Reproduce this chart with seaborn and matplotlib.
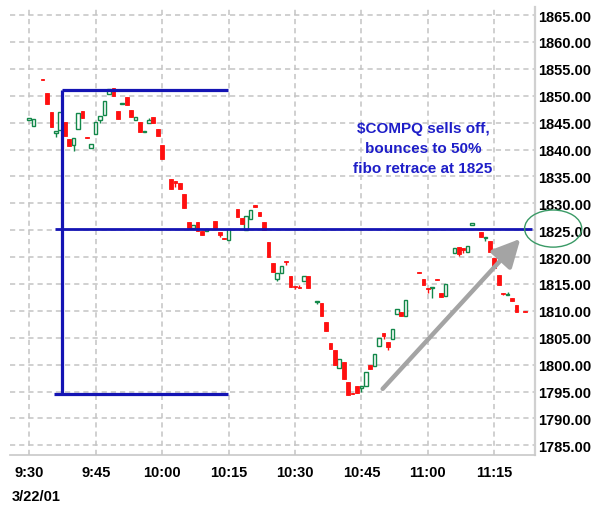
import numpy as np
import pandas as pd
import matplotlib
matplotlib.use("Agg")
import matplotlib.pyplot as plt
from matplotlib.patches import Ellipse
import seaborn as sns

# One-minute bars, minutes after the 9:30 open
minute = [0, 1, 3, 4, 5, 6, 7, 8, 9, 10, 11, 12, 13, 14, 15, 16, 17, 18, 19, 20,
          21, 22, 23, 24, 25, 26, 27, 28, 29, 30,
          32, 33, 34, 35, 36, 37, 38, 39, 40, 42, 43, 44, 45, 47, 48, 49, 50, 51,
          52, 53, 54, 55, 56, 57, 58, 59, 60, 61, 62, 63,
          65, 66, 67, 68, 69, 70, 71, 72, 73, 74, 75, 76, 77, 78, 79, 80, 81, 82,
          83, 84, 85,
          88, 89, 90, 91, 92, 93, 94, 96, 97, 98, 99, 100, 102, 103, 104, 105, 106,
          107, 108, 109, 110, 112]
open_px = [1845.5, 1844.3, 1853.2, 1850.5, 1847.0, 1843.0, 1843.6, 1845.2, 1842.0, 1840.9,
           1843.8, 1847.1, 1842.4, 1840.2, 1842.9, 1845.4, 1846.4, 1850.3, 1851.4, 1847.1,
           1848.5, 1849.7, 1847.4, 1845.5, 1845.2, 1843.3, 1845.0, 1846.0, 1843.8, 1840.9,
           1834.6, 1834.1, 1833.7, 1831.8, 1826.6, 1825.4, 1826.6, 1824.8, 1824.9, 1826.8,
           1824.6, 1823.6, 1823.1, 1828.9, 1827.2, 1825.1, 1827.0, 1829.6, 1828.3, 1826.6,
           1822.8, 1818.9, 1815.9, 1817.0, 1819.2, 1816.4, 1814.7, 1814.4, 1815.6, 1816.4,
           1811.7, 1811.4, 1808.0, 1804.1, 1802.7, 1799.4, 1800.4, 1796.8, 1794.8, 1796.0,
           1795.6, 1796.1, 1800.0, 1799.7, 1803.5, 1805.8, 1804.3, 1804.8, 1809.4, 1809.7,
           1809.1,
           1817.3, 1815.9, 1814.2, 1814.2, 1816.0, 1813.4, 1812.8, 1820.7, 1821.8, 1821.6,
           1820.9, 1826.0, 1824.6, 1823.5, 1822.9, 1819.8, 1816.7, 1813.4, 1812.9, 1812.3,
           1811.0, 1810.0]
close_px = [1845.8, 1845.6, 1853.0, 1848.4, 1844.1, 1843.4, 1846.9, 1842.5, 1840.6, 1842.2,
            1846.8, 1845.9, 1842.2, 1841.0, 1845.2, 1846.2, 1849.0, 1851.2, 1850.0, 1845.7,
            1848.7, 1848.3, 1846.1, 1846.0, 1843.2, 1843.5, 1845.5, 1844.9, 1842.5, 1838.3,
            1832.6, 1833.7, 1832.6, 1829.1, 1825.5, 1826.0, 1824.9, 1824.1, 1825.3, 1825.5,
            1824.1, 1823.4, 1825.2, 1827.4, 1826.2, 1827.6, 1828.7, 1829.4, 1827.7, 1825.1,
            1820.0, 1817.3, 1817.0, 1818.4, 1819.0, 1814.4, 1814.5, 1814.2, 1816.5, 1814.2,
            1811.9, 1809.0, 1806.2, 1803.0, 1800.0, 1801.0, 1797.4, 1794.4, 1794.6, 1794.7,
            1796.0, 1798.7, 1799.2, 1802.0, 1805.0, 1805.3, 1803.2, 1806.7, 1810.3, 1809.1,
            1812.0,
            1817.1, 1814.9, 1814.0, 1814.5, 1815.8, 1812.6, 1815.0, 1821.6, 1820.6, 1821.4,
            1822.1, 1826.3, 1823.7, 1823.8, 1821.0, 1818.0, 1814.8, 1813.2, 1813.2, 1811.8,
            1809.7, 1809.7]
# bars whose shadows reach beyond the body
wick_low = {6: 1842.3, 10: 1839.8, 16: 1845.0, 33: 1833.1, 43: 1823.7, 56: 1815.6,
            58: 1818.6, 60: 1814.0, 65: 1811.2, 75: 1794.9, 80: 1804.8, 81: 1802.8,
            90: 1813.4, 91: 1812.3, 97: 1820.2, 98: 1820.8, 103: 1823.0, 107: 1812.9}
wick_high = {27: 1845.8, 61: 1814.9, 108: 1813.6}

time_ticks = [0, 15, 30, 45, 60, 75, 90, 105]
time_labels = ["9:30", "9:45", "10:00", "10:15", "10:30", "10:45", "11:00", "11:15"]
price_ticks = list(range(1785, 1866, 5))
session_date = "3/22/01"

swing_high = 1851.0
swing_low = 1794.5
retrace_level = 1825.3

bars = pd.DataFrame({"minute": minute, "open": open_px, "close": close_px})
bars["high"] = bars[["open", "close"]].max(axis=1)
bars["low"] = bars[["open", "close"]].min(axis=1)
bars.loc[bars["minute"].isin(wick_low.keys()), "low"] = bars["minute"].map(wick_low)
bars.loc[bars["minute"].isin(wick_high.keys()), "high"] = bars["minute"].map(wick_high)
bars["up"] = bars["close"] >= bars["open"]

sns.set_theme(style="white")
plt.rcParams["font.family"] = ["Liberation Sans", "DejaVu Sans"]
plt.rcParams["font.weight"] = "bold"

UP = "#13884a"
DOWN = "#ff1010"
BLUE = "#1414b4"
GRID = "#c4c4c4"

fig = plt.figure(figsize=(5.95, 5.06), dpi=100)
ax = fig.add_axes([10 / 595, 1 - 456 / 506, 525 / 595, 448 / 506])

# grid
for p in price_ticks:
    ax.axhline(p, color=GRID, lw=1.1, dashes=(3.4, 2.6), zorder=0)
for t in time_ticks:
    ax.axvline(t, color=GRID, lw=1.1, dashes=(3.4, 2.6), zorder=0)

# shadows
for _, r in bars.iterrows():
    ax.vlines(r["minute"], r["low"], r["high"], color=UP if r["up"] else DOWN,
              lw=1.0, zorder=2)

# bodies
up = bars[bars["up"]]
dn = bars[~bars["up"]]
ax.bar(up["minute"], (up["close"] - up["open"]).clip(lower=0.15), bottom=up["open"],
       width=0.8, color="white", edgecolor=UP, linewidth=1.0, zorder=3)
ax.bar(dn["minute"], (dn["close"] - dn["open"]).clip(upper=-0.15), bottom=dn["open"],
       width=0.85, color=DOWN, edgecolor=DOWN, linewidth=0.6, zorder=3)

# fibonacci swing lines
ax.plot([7.4, 44.9], [swing_high, swing_high], color=BLUE, lw=2.3, zorder=4,
        solid_capstyle="butt")
ax.plot([7.4, 7.4], [swing_high, swing_low], color=BLUE, lw=2.3, zorder=4,
        solid_capstyle="butt")
ax.plot([5.6, 44.9], [swing_low, swing_low], color=BLUE, lw=2.3, zorder=4,
        solid_capstyle="butt")
ax.plot([5.8, 113.6], [retrace_level, retrace_level], color=BLUE, lw=2.0, zorder=4,
        solid_capstyle="butt")

ax.text(88.9, 1840.3, "$COMPQ sells off,\nbounces to 50%\nfibo retrace at 1825",
        ha="center", va="center", color="#1e1ec8", fontsize=11, fontweight="bold",
        linespacing=1.55, zorder=5)

ax.annotate("", xy=(110.9, 1823.4), xytext=(79.8, 1795.5),
            arrowprops=dict(arrowstyle="-|>,head_length=1.4,head_width=0.7",
                            color="#a4a4a4", lw=3.2, shrinkA=0, shrinkB=0),
            zorder=5)

ax.add_patch(Ellipse((118.3, retrace_level), 12.9, 6.9, fill=False,
                     edgecolor="#3a9a66", lw=1.0, clip_on=False, zorder=6))

ax.set_xlim(-4.35, 114.2)
ax.set_ylim(1783.2, 1866.5)

ax.set_xticks(time_ticks)
ax.set_xticklabels(time_labels)
ax.yaxis.tick_right()
ax.set_yticks(price_ticks)
ax.set_yticklabels([f"{p:.2f}" for p in price_ticks])
ax.tick_params(axis="x", length=0, pad=7, labelsize=10.5, labelcolor="black")
ax.tick_params(axis="y", length=0, pad=2.5, labelsize=10.5, labelcolor="black")
for lab in ax.get_xticklabels() + ax.get_yticklabels():
    lab.set_fontweight("bold")

for side in ["left", "top"]:
    ax.spines[side].set_visible(False)
ax.spines["bottom"].set_color("#c8c8c8")
ax.spines["bottom"].set_linewidth(1.2)
ax.spines["right"].set_color("#d0d0d0")
ax.spines["right"].set_linewidth(1.6)
ax.set_facecolor("white")
fig.patch.set_facecolor("white")

fig.text(12 / 595, 1 - 497 / 506, session_date, ha="left", va="center",
         fontsize=10.5, fontweight="bold", color="black")

fig.savefig("out.png", dpi=100, facecolor="white")
